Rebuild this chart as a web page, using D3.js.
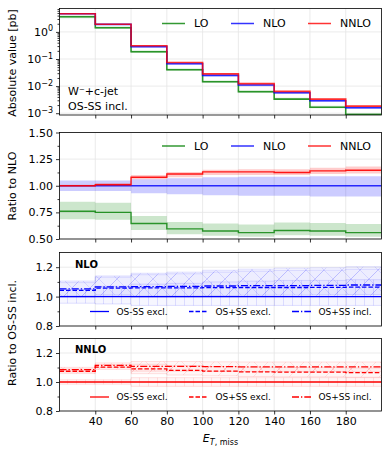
<!DOCTYPE html>
<html>
<head>
<meta charset="utf-8">
<script src="https://cdn.jsdelivr.net/npm/d3@7"></script>
<style>
body{margin:0;background:#fff;}
text{font-family:"DejaVu Sans",sans-serif;}
</style>
</head>
<body>
<svg id="chart" width="390" height="454"></svg>
<script>
// bins in E_T,miss [GeV]
var binEdges = [20,40,60,80,100,120,140,160,180,200];
var xTicks = [40,60,80,100,120,140,160,180];

// absolute value [pb], OS-SS incl.
var loAbs   = [3.6, 1.42, 0.185, 0.040, 0.0144, 0.0062, 0.0033, 0.00167, 0.0009];
var nloAbs  = [4.7, 1.9, 0.287, 0.067, 0.025, 0.011, 0.0057, 0.0029, 0.0016];
var nnloAbs = [4.7, 1.92, 0.31, 0.074, 0.0283, 0.0124, 0.0064, 0.0033, 0.00183];

// ratio to NLO, central and scale band
var loRatio     = [0.76, 0.75, 0.645, 0.595, 0.575, 0.56, 0.58, 0.575, 0.56];
var loRatioUp   = [0.85, 0.84, 0.715, 0.66, 0.645, 0.635, 0.655, 0.65, 0.64];
var loRatioDn   = [0.685, 0.68, 0.585, 0.545, 0.53, 0.52, 0.535, 0.53, 0.52];
var nloRatioUp  = [1.05, 1.05, 1.06, 1.07, 1.08, 1.085, 1.085, 1.09, 1.09];
var nloRatioDn  = [0.95, 0.95, 0.93, 0.92, 0.91, 0.905, 0.905, 0.90, 0.90];
var nnloRatio   = [1.00, 1.01, 1.08, 1.11, 1.13, 1.13, 1.125, 1.14, 1.145];
var nnloRatioUp = [1.01, 1.025, 1.10, 1.13, 1.15, 1.155, 1.155, 1.17, 1.18];
var nnloRatioDn = [0.99, 1.00, 1.06, 1.08, 1.10, 1.10, 1.10, 1.11, 1.115];

// ratio to OS-SS incl. at NLO
var nloOSSSexcl  = [1.00, 1.00, 1.00, 1.00, 1.00, 1.00, 1.00, 1.00, 1.00];
var nloOSpSSexcl = [1.043, 1.058, 1.059, 1.060, 1.061, 1.062, 1.062, 1.063, 1.064];
var nloOSpSSincl = [1.053, 1.066, 1.068, 1.070, 1.072, 1.074, 1.075, 1.077, 1.079];
var nloUncUp = [0.05, 0.07, 0.085, 0.09, 0.10, 0.105, 0.11, 0.11, 0.115];
var nloUncDn = [0.045, 0.05, 0.06, 0.06, 0.06, 0.06, 0.06, 0.06, 0.06];

// ratio to OS-SS incl. at NNLO
var nnloOSSSexcl  = [1.00, 1.00, 1.00, 1.00, 1.00, 1.00, 1.00, 1.00, 1.00];
var nnloOSpSSexcl = [1.074, 1.103, 1.09, 1.08, 1.075, 1.07, 1.068, 1.068, 1.065];
var nnloOSpSSincl = [1.085, 1.115, 1.108, 1.108, 1.106, 1.105, 1.105, 1.105, 1.105];
var nnloUncUp = [0.015, 0.015, 0.03, 0.03, 0.03, 0.03, 0.03, 0.03, 0.03];
var nnloUncDn = [0.015, 0.015, 0.03, 0.03, 0.03, 0.03, 0.03, 0.03, 0.03];

var GREEN = "#008000", BLUE = "#0000ff", RED = "#ff0000";

var svg = d3.select("#chart");
var defs = svg.append("defs");

var x = d3.scaleLinear().domain([20,200]).range([59.5,381.5]);

var panels = [
  {top:8.5,   bottom:115, y:d3.scaleLog().domain([8.6e-4, 7.3]).range([115, 8.5])},
  {top:132.5, bottom:239, y:d3.scaleLinear().domain([0.5,1.5]).range([239,132.5])},
  {top:252.5, bottom:326, y:d3.scaleLinear().domain([0.8,1.3]).range([326,252.5])},
  {top:338.5, bottom:411, y:d3.scaleLinear().domain([0.8,1.3]).range([411,338.5])}
];

function hatch(id, color, w, h, d){
  var p = defs.append("pattern").attr("id", id)
      .attr("patternUnits","userSpaceOnUse")
      .attr("width", w).attr("height", h);
  p.append("path").attr("d", d)
      .attr("stroke", color).attr("stroke-width", 0.8).attr("fill","none");
}
hatch("hxB", "rgba(0,0,255,0.14)", 18, 18, "M0,0L18,18M0,18L18,0");
hatch("hsB", "rgba(0,0,255,0.14)", 18, 18, "M0,18L18,0");
hatch("hvB", "rgba(0,0,255,0.14)", 9, 9, "M4.5,0L4.5,9");
hatch("hxR", "rgba(255,0,0,0.13)", 18, 18, "M0,0L18,18M0,18L18,0");
hatch("hsR", "rgba(255,0,0,0.13)", 18, 18, "M0,18L18,0");
hatch("hvR", "rgba(255,0,0,0.13)", 9, 9, "M4.5,0L4.5,9");

panels.forEach(function(p, i){
  defs.append("clipPath").attr("id", "clip" + i)
    .append("rect").attr("x", x(20)).attr("y", p.top)
    .attr("width", x(200) - x(20)).attr("height", p.bottom - p.top);
  p.g = svg.append("g");
  p.plot = svg.append("g").attr("clip-path", "url(#clip" + i + ")");
});

function stepPts(vals){
  var pts = [];
  vals.forEach(function(v, i){
    pts.push([binEdges[i], v]);
    pts.push([binEdges[i+1], v]);
  });
  return pts;
}

function drawStep(p, vals, color, width, dash, opacity){
  var line = d3.line().x(function(d){ return x(d[0]); }).y(function(d){ return p.y(d[1]); });
  p.plot.append("path")
      .attr("d", line(stepPts(vals)))
      .attr("fill", "none")
      .attr("stroke", color)
      .attr("stroke-width", width)
      .attr("stroke-dasharray", dash || null)
      .attr("stroke-opacity", opacity == undefined ? 1 : opacity);
}

function drawBand(p, lo, hi, color, opacity, pattern, edge){
  var pts = [];
  lo.forEach(function(v, i){
    pts.push([binEdges[i], v, hi[i]]);
    pts.push([binEdges[i+1], v, hi[i]]);
  });
  var area = d3.area().x(function(d){ return x(d[0]); })
      .y0(function(d){ return p.y(d[1]); })
      .y1(function(d){ return p.y(d[2]); });
  p.plot.append("path").attr("d", area(pts))
      .attr("fill", color).attr("fill-opacity", opacity)
      .attr("stroke", edge ? color : "none")
      .attr("stroke-opacity", edge ? 0.15 : 0)
      .attr("stroke-width", 0.8);
  if(pattern)
    p.plot.append("path").attr("d", area(pts)).attr("fill", "url(#" + pattern + ")");
}

function mul(a, b){ return a.map(function(v, i){ return v * b[i]; }); }
function scaleBy(a, u, sign){ return a.map(function(v, i){ return v * (1 + sign * u[i]); }); }

// grid
function grid(p, yVals){
  xTicks.forEach(function(t){
    p.g.append("line").attr("x1", x(t)).attr("x2", x(t))
      .attr("y1", p.top).attr("y2", p.bottom)
      .attr("stroke", "#e6e6e6").attr("stroke-width", 0.8);
  });
  yVals.forEach(function(t){
    p.g.append("line").attr("x1", x(20)).attr("x2", x(200))
      .attr("y1", p.y(t)).attr("y2", p.y(t))
      .attr("stroke", "#e6e6e6").attr("stroke-width", 0.8);
  });
}
grid(panels[0], [1e-3, 1e-2, 1e-1, 1]);
grid(panels[1], [0.5, 0.75, 1.0, 1.25, 1.5]);
grid(panels[2], [0.8, 1.0, 1.2]);
grid(panels[3], [0.8, 1.0, 1.2]);

// panel 1: absolute values
var p1 = panels[0];
drawBand(p1, mul(nloAbs, loRatioDn), mul(nloAbs, loRatioUp), GREEN, 0.2);
drawBand(p1, mul(nloAbs, nloRatioDn), mul(nloAbs, nloRatioUp), BLUE, 0.2);
drawBand(p1, mul(nloAbs, nnloRatioDn), mul(nloAbs, nnloRatioUp), RED, 0.2);
drawStep(p1, loAbs, GREEN, 1.6, null, 0.8);
drawStep(p1, nloAbs, BLUE, 1.6, null, 0.8);
drawStep(p1, nnloAbs, RED, 1.6, null, 0.8);

// panel 2: ratio to NLO
var p2 = panels[1];
drawBand(p2, loRatioDn, loRatioUp, GREEN, 0.2);
drawBand(p2, nloRatioDn, nloRatioUp, BLUE, 0.2);
drawBand(p2, nnloRatioDn, nnloRatioUp, RED, 0.2);
drawStep(p2, loRatio, GREEN, 1.4, null, 0.8);
drawStep(p2, nloAbs.map(function(){ return 1; }), BLUE, 1.4, null, 0.8);
drawStep(p2, nnloRatio, RED, 1.4, null, 0.9);

// panels 3 and 4: ratio to OS-SS incl.
function osPanel(p, ex, pex, pin, up, dn, color, suf){
  drawBand(p, scaleBy(ex, dn, -1), scaleBy(ex, up, 1), color, 0.035, "hv" + suf, true);
  drawBand(p, scaleBy(pex, dn, -1), scaleBy(pex, up, 1), color, 0.035, "hs" + suf, true);
  drawBand(p, scaleBy(pin, dn, -1), scaleBy(pin, up, 1), color, 0.035, "hx" + suf, true);
  drawStep(p, ex, color, 1.3);
  drawStep(p, pex, color, 1.3, "4.5,2");
  drawStep(p, pin, color, 1.3, "7,2,1.3,2");
}
osPanel(panels[2], nloOSSSexcl, nloOSpSSexcl, nloOSpSSincl, nloUncUp, nloUncDn, BLUE, "B");
osPanel(panels[3], nnloOSSSexcl, nnloOSpSSexcl, nnloOSpSSincl, nnloUncUp, nnloUncDn, RED, "R");

// axes
function styleAxis(g){
  g.select(".domain").remove();
  g.selectAll(".tick line").attr("stroke", "#000").attr("stroke-width", 0.8);
  g.selectAll("text").attr("font-family", "DejaVu Sans").attr("font-size", 11).attr("fill", "#000");
}

panels.forEach(function(p, i){
  var last = i == panels.length - 1;
  p.g.append("g").attr("transform", "translate(0," + p.bottom + ")")
    .call(d3.axisBottom(x).tickValues(xTicks).tickSize(3.5).tickPadding(3)
      .tickFormat(last ? d3.format("d") : ""))
    .call(styleAxis);
});

// y axes
var p1ax = p1.g.append("g").attr("transform", "translate(" + x(20) + ",0)")
  .call(d3.axisLeft(p1.y).tickValues([1e-3, 1e-2, 1e-1, 1]).tickSize(3.5).tickPadding(3).tickFormat(""))
  .call(styleAxis);
p1ax.selectAll(".tick text").each(function(d){
  var t = d3.select(this);
  var e = Math.round(Math.log10(d));
  t.append("tspan").text("10");
  t.append("tspan").attr("dy", -4.5).attr("font-size", 8).text(e < 0 ? "\u2212" + (-e) : e);
});
var minors = [];
[1e-3, 1e-2, 1e-1, 1].forEach(function(dec){
  for(var k = 2; k < 10; k++) if(dec * k < 7.3) minors.push(dec * k);
});
p1.g.append("g").attr("transform", "translate(" + x(20) + ",0)")
  .call(d3.axisLeft(p1.y).tickValues(minors).tickSize(2).tickFormat(""))
  .call(styleAxis);

p2.g.append("g").attr("transform", "translate(" + x(20) + ",0)")
  .call(d3.axisLeft(p2.y).tickValues([0.5, 0.75, 1.0, 1.25, 1.5]).tickSize(3.5).tickPadding(3).tickFormat(d3.format(".2f")))
  .call(styleAxis);
p2.g.append("g").attr("transform", "translate(" + x(20) + ",0)")
  .call(d3.axisLeft(p2.y).tickValues([0.625, 0.875, 1.125, 1.375]).tickSize(2).tickFormat(""))
  .call(styleAxis);

[panels[2], panels[3]].forEach(function(p){
  p.g.append("g").attr("transform", "translate(" + x(20) + ",0)")
    .call(d3.axisLeft(p.y).tickValues([0.8, 1.0, 1.2]).tickSize(3.5).tickPadding(3).tickFormat(d3.format(".1f")))
    .call(styleAxis);
  p.g.append("g").attr("transform", "translate(" + x(20) + ",0)")
    .call(d3.axisLeft(p.y).tickValues([0.9, 1.1]).tickSize(2).tickFormat(""))
    .call(styleAxis);
});

// spines
panels.forEach(function(p){
  svg.append("rect").attr("x", x(20)).attr("y", p.top)
    .attr("width", x(200) - x(20)).attr("height", p.bottom - p.top)
    .attr("fill", "none").attr("stroke", "#000").attr("stroke-width", 0.8);
});

// legends
function legend(items, y, xs, len, gap, fs){
  items.forEach(function(it, i){
    svg.append("line").attr("x1", xs[i]).attr("x2", xs[i] + len)
      .attr("y1", y).attr("y2", y)
      .attr("stroke", it.color).attr("stroke-width", it.w || 1.5)
      .attr("stroke-opacity", it.op || 1)
      .attr("stroke-dasharray", it.dash || null);
    svg.append("text").attr("x", xs[i] + len + gap).attr("y", y).attr("dy", "0.35em")
      .attr("font-size", fs).text(it.label);
  });
}
var ordItems = [
  {label:"LO", color:GREEN, op:0.8},
  {label:"NLO", color:BLUE, op:0.8},
  {label:"NNLO", color:RED, op:0.8}
];
legend(ordItems, 23.5, [162, 231, 308], 23, 9, 11);
legend(ordItems, 146, [162, 231, 308], 23, 9, 11);

function osItems(c){
  return [
    {label:"OS-SS excl.", color:c, w:1.3},
    {label:"OS+SS excl.", color:c, w:1.3, dash:"4.5,2"},
    {label:"OS+SS incl.", color:c, w:1.3, dash:"7,2,1.3,2"}
  ];
}
legend(osItems(BLUE), 311.5, [90, 189, 292], 19, 7.5, 9);
legend(osItems(RED), 397, [90, 189, 292], 19, 7.5, 9);

// annotations
svg.append("text").attr("x", 68).attr("y", 95).attr("font-size", 11).text("W\u207B+c-jet");
svg.append("text").attr("x", 68).attr("y", 110).attr("font-size", 11).text("OS-SS incl.");
svg.append("text").attr("x", 75).attr("y", 264).attr("dy", "0.35em")
  .attr("font-size", 10).attr("font-weight", "bold").text("NLO");
svg.append("text").attr("x", 75).attr("y", 349).attr("dy", "0.35em")
  .attr("font-size", 10).attr("font-weight", "bold").text("NNLO");

// axis labels
function ylabel(txt, cy){
  svg.append("text").attr("transform", "translate(12.5," + cy + ") rotate(-90)")
    .attr("text-anchor", "middle").attr("dy", "0.35em")
    .attr("font-size", 11).text(txt);
}
ylabel("Absolute value [pb]", 63);
ylabel("Ratio to NLO", 186);
ylabel("Ratio to OS-SS incl.", 333);

var xl = svg.append("text").attr("x", x(110)).attr("y", 442)
  .attr("text-anchor", "middle").attr("font-size", 11);
xl.append("tspan").attr("font-style", "italic").text("E");
xl.append("tspan").attr("dy", 2.5).attr("font-size", 8).attr("font-style", "italic").text("T");
xl.append("tspan").attr("font-size", 8).text(", miss");
</script>
</body>
</html>
